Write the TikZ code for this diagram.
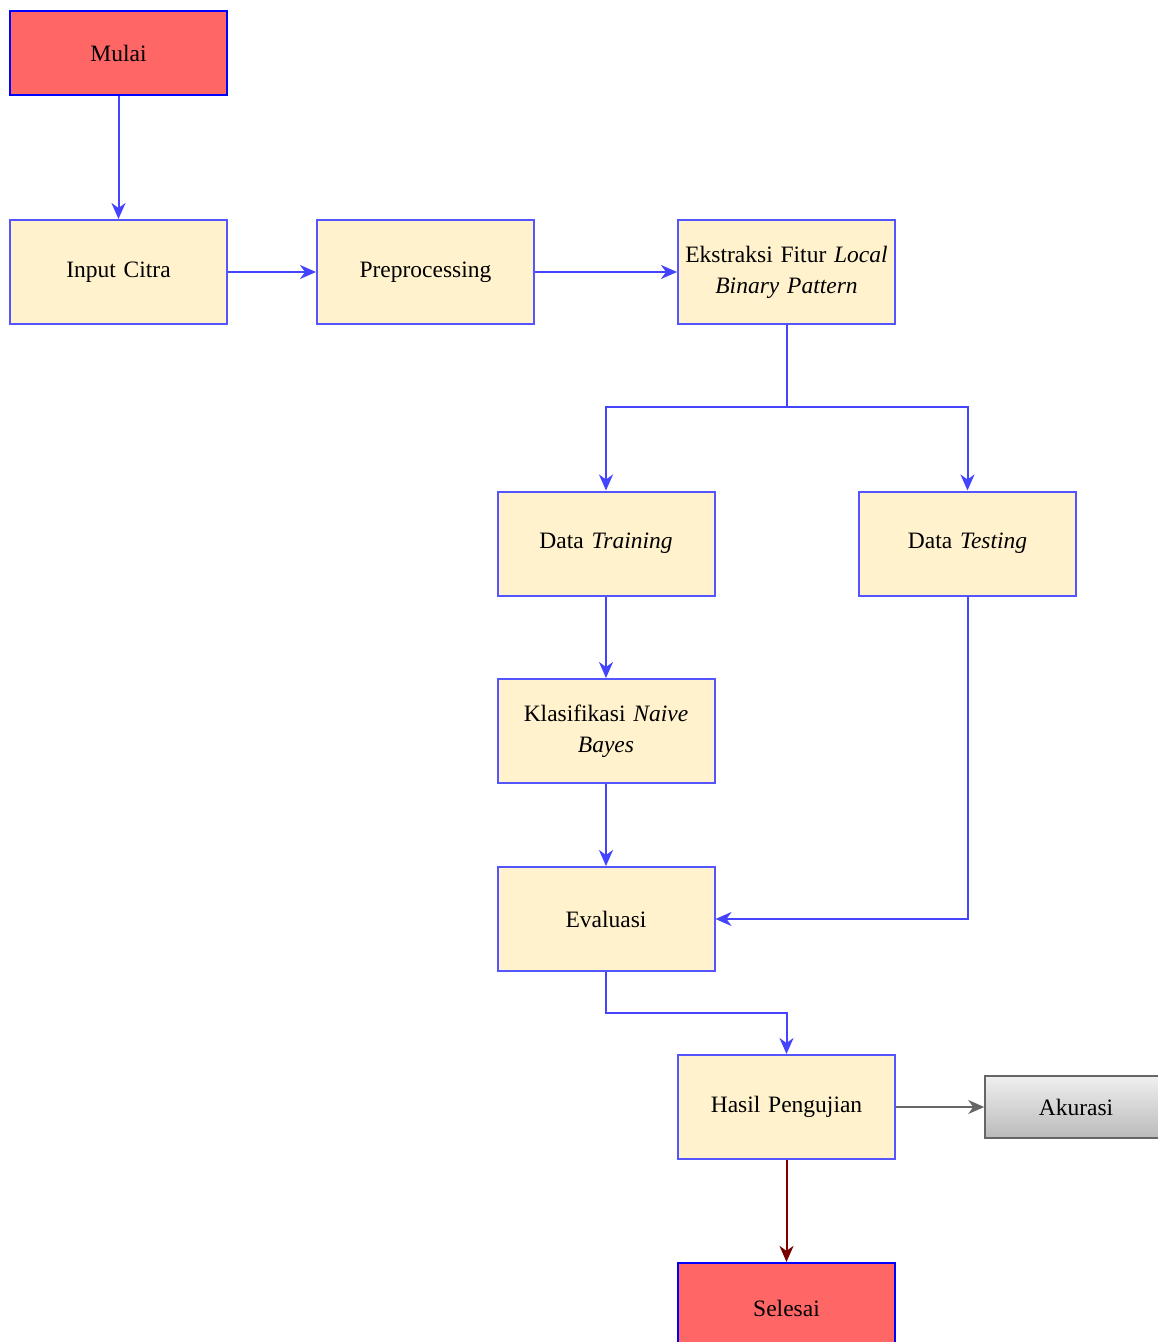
\documentclass[tikz,border=0pt]{standalone}
\usepackage{fontspec}
\setmainfont{Liberation Serif}
\usetikzlibrary{arrows.meta,positioning,shadings}
\definecolor{boxfill}{HTML}{FFF2CC}
\definecolor{boxline}{HTML}{5555FF}
\definecolor{lineblue}{HTML}{4444FF}
\definecolor{startred}{HTML}{FF6666}
\definecolor{darkred}{HTML}{7A0000}
\definecolor{graydark}{HTML}{666666}
\begin{document}
\begin{tikzpicture}[x=1pt,y=-1pt,
  every node/.style={font=\fontsize{23.5}{28}\selectfont, align=center, inner sep=0pt},
  procbox/.style={draw=boxline, line width=2pt, fill=boxfill, minimum width=217pt, minimum height=104pt, text width=205pt},
  termbox/.style={draw=blue, line width=2.2pt, fill=startred, minimum width=217pt, minimum height=84pt},
  graybox/.style={draw=graydark, line width=1.6pt, top color=black!6, bottom color=black!27, minimum width=200pt, minimum height=62pt},
  tip/.style={-{Stealth[length=16pt,width=14pt,inset=5pt]}},
  conn/.style={draw=lineblue, line width=2pt, tip},
  gconn/.style={draw=graydark, line width=1.6pt, tip},
  rconn/.style={draw=darkred, line width=2pt, tip}
]
\useasboundingbox[fill=white] (0,0) rectangle (1158,1342);
\node[termbox] (mulai) at (118.5,53) {Mulai};
\node[procbox] (input) at (118.5,272) {Input Citra};
\node[procbox] (pre) at (425.5,272) {Preprocessing};
\node[procbox] (eks) at (786.5,272) {Ekstraksi Fitur \textit{Local}\\[3pt]\textit{Binary Pattern}};
\node[procbox] (train) at (606,543.5) {Data \textit{Training}};
\node[procbox] (test) at (967.5,543.5) {Data \textit{Testing}};
\node[procbox] (klas) at (606,731) {Klasifikasi \textit{Naive}\\[3pt]\textit{Bayes}};
\node[procbox] (eval) at (606,919) {Evaluasi};
\node[procbox] (hasil) at (786.5,1107) {Hasil Pengujian};
\node[graybox] (akur) at (1085,1107) {\hspace*{-18pt}Akurasi};
\node[termbox, minimum height=104pt] (selesai) at (786.5,1315) {\raisebox{14pt}{Selesai}};
\coordinate (split) at (786.5,407);
\draw[conn] (mulai) -- (input);
\draw[conn] (input) -- (pre);
\draw[conn] (pre) -- (eks);
\draw[conn] (eks.south) -- (split) -| (train.north);
\draw[conn] (split) -| (test.north);
\draw[conn] (train) -- (klas);
\draw[conn] (klas) -- (eval);
\draw[conn] (test.south) |- (eval.east);
\draw[conn] (eval.south) -- ++(0,41) -| (hasil.north);
\draw[gconn] (hasil) -- (akur);
\draw[rconn] (hasil.south) -- (selesai.north);
\end{tikzpicture}
\end{document}
